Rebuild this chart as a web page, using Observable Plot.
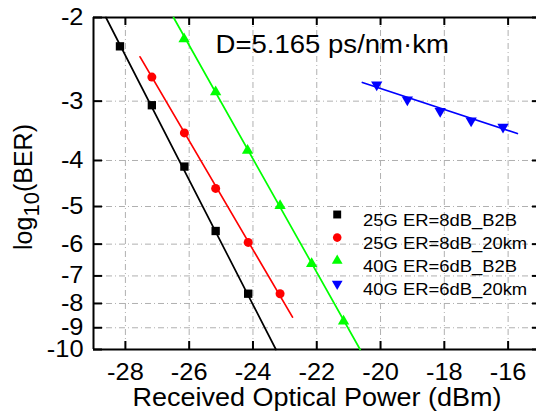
<!DOCTYPE html>
<html><head><meta charset="utf-8">
<script src="https://cdn.jsdelivr.net/npm/d3@7"></script>
<script src="https://cdn.jsdelivr.net/npm/@observablehq/plot@0.6"></script>
<style>
body{margin:0;background:#fff}
svg{font-family:"Liberation Sans",Arial,sans-serif}
</style>
</head><body><div id="chart"></div>
<script>
// ---- data ----
const xTicks = [-28, -26, -24, -22, -20, -18, -16];
const yTicks = [-2, -3, -4, -5, -6, -7, -8, -9, -10];
const seriesNames = ["25G ER=8dB_B2B", "25G ER=8dB_20km", "40G ER=6dB_B2B", "40G ER=6dB_20km"];
const seriesColors = ["#000000", "#ff0000", "#00ff00", "#0000ff"];
const seriesSymbols = ["square", "circle", "triangle", "triangleDown"];

const x25B2B = [-28.17, -27.17, -26.15, -25.17, -24.15];
const y25B2B = [-2.30, -3.06, -4.12, -5.63, -7.63];
const x25km = [-27.17, -26.15, -25.17, -24.15, -23.15];
const y25km = [-2.67, -3.50, -4.58, -5.95, -7.63];
const x40B2B = [-26.16, -25.17, -24.17, -23.15, -22.16, -21.16];
const y40B2B = [-2.22, -2.87, -3.81, -4.98, -6.60, -8.72];
const x40km = [-20.12, -19.16, -18.13, -17.16, -16.16];
const y40km = [-2.77, -2.98, -3.15, -3.30, -3.40];

// fitted lines (end points)
const fitX25B2B = [-28.61, -23.28], fitY25B2B = [-2, -10];
const fitX25km = [-27.54, -22.76], fitY25km = [-2.42, -8.55];
const fitX40B2B = [-26.49, -20.64], fitY40B2B = [-2, -10];
const fitX40km = [-20.57, -15.71], fitY40km = [-2.74, -3.51];

const titleText = "D=5.165 ps/nm·km";
const xLabel = "Received Optical Power (dBm)";

// ---- build tables ----
const ptsX = [x25B2B, x25km, x40B2B, x40km], ptsY = [y25B2B, y25km, y40B2B, y40km];
const fitXs = [fitX25B2B, fitX25km, fitX40B2B, fitX40km], fitYs = [fitY25B2B, fitY25km, fitY40B2B, fitY40km];
const points = seriesNames.map((s, i) => ptsX[i].map((x, j) => ({series: s, x, ber: ptsY[i][j]})));
const fits = seriesNames.flatMap((s, i) => fitXs[i].map((x, j) => ({series: s, x, ber: fitYs[i][j]})));

const sqrt3 = Math.sqrt(3);
const triangleDown = {
  draw(context, size) {
    const y = -Math.sqrt(size / (sqrt3 * 3));
    context.moveTo(0, -y * 2);
    context.lineTo(-sqrt3 * y, y);
    context.lineTo(sqrt3 * y, y);
    context.closePath();
  }
};
const symbolOf = (name) => name === "triangleDown" ? triangleDown : name;
const radius = [4.7, 4.5, 4.2, 4.2];

const W = 536, H = 412, mL = 93, mT = 17, mB = 63, mR = 0;
const PW = W - mL - mR, PH = H - mT - mB;
const grid = {stroke: "#b0b0b0", strokeWidth: 1, strokeDasharray: "6,3,1,3"};
const ny = d => -d;

const marks = [
  Plot.ruleX(xTicks, grid),
  Plot.ruleY(yTicks.slice(1, -1), {y: ny, ...grid}),
  // inward ticks
  Plot.ruleX(xTicks, {stroke: "#000", strokeWidth: 2, insetTop: PH - 8}),
  Plot.ruleX(xTicks, {stroke: "#000", strokeWidth: 2, insetBottom: PH - 8}),
  Plot.ruleY(yTicks, {y: ny, stroke: "#000", strokeWidth: 2, insetRight: PW - 9}),
  Plot.ruleY(yTicks, {y: ny, stroke: "#000", strokeWidth: 2, insetLeft: PW - 4}),
  // frame (left, top, bottom)
  Plot.ruleX([-29], {stroke: "#000", strokeWidth: 2}),
  Plot.ruleY([yTicks[0], yTicks[yTicks.length - 1]], {y: ny, stroke: "#000", strokeWidth: 2}),
  Plot.line(fits, {x: "x", y: d => -d.ber, z: "series", stroke: "series", strokeWidth: 1.7}),
  ...points.map((p, i) => Plot.dot(p, {x: "x", y: d => -d.ber, symbol: symbolOf(seriesSymbols[i]), r: radius[i], fill: seriesColors[i], stroke: "none"})),
  // legend
  ...seriesNames.map((s, i) => Plot.dot([s], {frameAnchor: "top-left", dx: 243.7, dy: 197 + i * 23.1, symbol: symbolOf(seriesSymbols[i]), r: radius[i] * 0.95, fill: seriesColors[i], stroke: "none"})),
  ...seriesNames.map((s, i) => Plot.text([s], {frameAnchor: "top-left", dx: 269.5, dy: 197 + i * 23.1, text: d => d, textAnchor: "start", fontSize: 16, fill: "#000"})),
  // title annotation
  Plot.text([titleText], {frameAnchor: "top-left", dx: 122, dy: 35, text: d => d, textAnchor: "start", lineAnchor: "bottom", fontSize: 25.5, fill: "#000"}),
  // x label
  Plot.text([xLabel], {frameAnchor: "bottom", dx: 2, dy: 56, text: d => d, lineAnchor: "bottom", fontSize: 25, fill: "#000"})
];

const chart = Plot.plot({
  width: W, height: H,
  marginLeft: mL, marginTop: mT, marginBottom: mB, marginRight: mR,
  style: {fontSize: "23.5px", fontFamily: "Liberation Sans, Arial, sans-serif", background: "#fff", color: "#000", overflow: "visible"},
  x: {domain: [-29, -15.11], ticks: xTicks, tickSize: 0, tickPadding: 14, tickFormat: d => String(d), label: null},
  y: {type: "log", domain: [2, 10], reverse: true, ticks: yTicks.map(ny), tickSize: 0, tickPadding: 10, tickFormat: d => "-" + d, label: null},
  color: {domain: seriesNames, range: seriesColors},
  marks
});
document.getElementById("chart").appendChild(chart);

// y label with subscript
const yl = d3.select(chart).append("text")
  .attr("transform", "translate(32,187) rotate(-90)")
  .attr("text-anchor", "middle").attr("font-size", 25).attr("fill", "#000");
yl.append("tspan").text("log");
yl.append("tspan").attr("dy", 7).attr("font-size", 22).text("10");
yl.append("tspan").attr("dy", -7).text("(BER)");

// slight horizontal widening of glyphs to match the reference lettering
chart.querySelectorAll("text").forEach(t => {
  if (t.querySelector("tspan")) return;
  const fs = parseFloat(getComputedStyle(t).fontSize);
  const f = fs < 18 ? 1.15 : 1.08;
  const len = t.getComputedTextLength();
  if (len > 0) { t.setAttribute("textLength", len * f); t.setAttribute("lengthAdjust", "spacingAndGlyphs"); }
});
</script>
</body></html>
